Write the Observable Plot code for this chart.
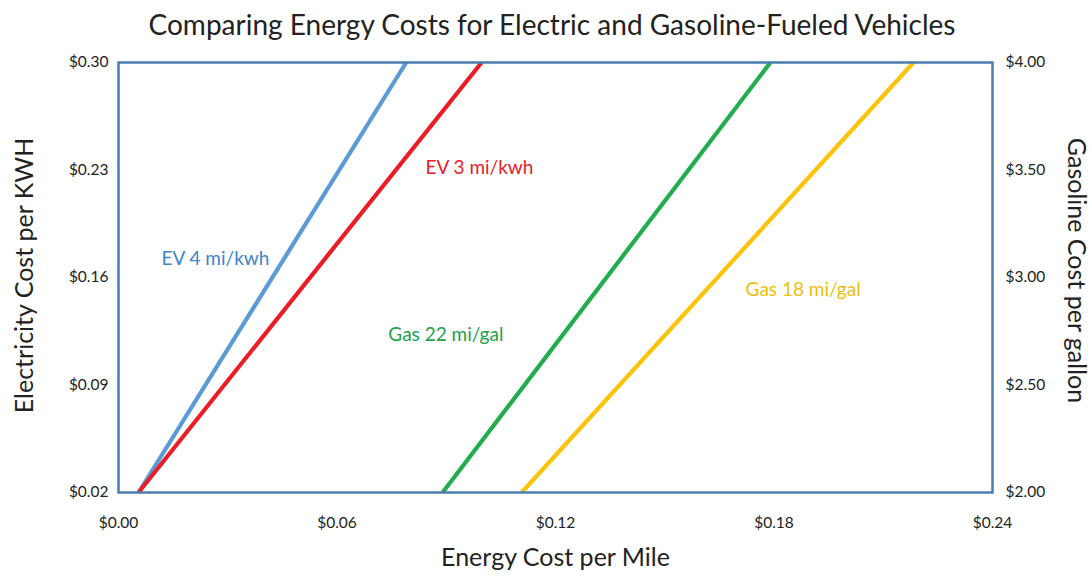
<!DOCTYPE html>
<html>
<head>
<meta charset="utf-8">
<script src="https://cdn.jsdelivr.net/npm/d3@7"></script>
<script src="https://cdn.jsdelivr.net/npm/@observablehq/plot@0.6"></script>
<style>
  html, body { margin: 0; padding: 0; background: #fff; }
  body { width: 1092px; height: 578px; overflow: hidden; font-family: Lato, "Open Sans", sans-serif; }
  #title { height: 44px; line-height: 48px; text-align: center; font-size: 28px; color: #222; padding-left: 12px; }
</style>
</head>
<body>
<div id="title">Comparing Energy Costs for Electric and Gasoline-Fueled Vehicles</div>
<div id="chart"></div>
<script>
// Axis ticks
const xTicks = [0.00, 0.06, 0.12, 0.18, 0.24];
const elecTicks = [0.02, 0.09, 0.16, 0.23, 0.30];
const gasTicks = [2.00, 2.50, 3.00, 3.50, 4.00];

// Series: [energy cost per mile, fuel price] at both ends
const seriesNames = ["EV 4 mi/kwh", "EV 3 mi/kwh", "Gas 22 mi/gal", "Gas 18 mi/gal"];
const seriesAxis = ["elec", "elec", "gas", "gas"];
const seriesCostPerMile = [[0.0055, 0.079], [0.0055, 0.0997], [0.089, 0.179], [0.1107, 0.2183]];
const seriesPrice = [[0.02, 0.30], [0.02, 0.30], [2.00, 4.00], [2.00, 4.00]];
const seriesColors = ["#5b9bd5", "#ec1c24", "#22ad4c", "#fcc30b"];
const labelColors = ["#3d85c6", "#e8202a", "#22a14a", "#f2bd0c"];

// Label anchor points (data space, on the electricity scale)
const labelX = [0.0118, 0.0843, 0.0741, 0.1722];
const labelY = [0.1724, 0.2316, 0.1229, 0.1516];

// map gasoline price to the electricity scale (both axes share the frame)
const gasToElec = d3.scaleLinear().domain([gasTicks[0], gasTicks[gasTicks.length - 1]])
  .range([elecTicks[0], elecTicks[elecTicks.length - 1]]);

const lines = [];
seriesNames.forEach((name, i) => {
  for (let k = 0; k < 2; k++) {
    const p = seriesPrice[i][k];
    lines.push({name, x: seriesCostPerMile[i][k], y: seriesAxis[i] === "gas" ? gasToElec(p) : p});
  }
});
const labels = seriesNames.map((name, i) => ({name, x: labelX[i], y: labelY[i], color: labelColors[i]}));

const fmt = d3.format("$.2f");

const plot = Plot.plot({
  width: 1092,
  height: 534,
  marginTop: 18,
  marginBottom: 86,
  marginLeft: 118,
  marginRight: 100,
  style: {fontFamily: "Lato, 'Open Sans', sans-serif", fontSize: "15.5px", color: "#222", background: "#fff"},
  x: {domain: [xTicks[0], xTicks[xTicks.length - 1]]},
  y: {domain: [elecTicks[0], elecTicks[elecTicks.length - 1]]},
  color: {domain: seriesNames, range: seriesColors},
  marks: [
    Plot.axisX({ticks: xTicks, tickFormat: fmt, tickSize: 0, tickPadding: 24, label: null, fontSize: 15.5}),
    Plot.axisY({ticks: elecTicks, tickFormat: fmt, tickSize: 0, tickPadding: 10, label: null, fontSize: 15.5}),
    Plot.axisY({anchor: "right", ticks: elecTicks, tickFormat: (d, i) => fmt(gasTicks[i]), tickSize: 0, tickPadding: 13, label: null, fontSize: 15.5}),
    Plot.line(lines, {x: "x", y: "y", z: "name", stroke: "name", strokeWidth: 4.2, strokeLinecap: "butt"}),
    Plot.frame({stroke: "#4a7eb0", strokeWidth: 2.5}),
    Plot.text(labels, {x: "x", y: "y", text: "name", fill: "color", textAnchor: "start", fontSize: 19}),
    Plot.text(["Energy Cost per Mile"], {frameAnchor: "bottom", textAnchor: "middle", dy: 73, fontSize: 25, fill: "#222"}),
    Plot.text(["Electricity Cost per KWH"], {frameAnchor: "left", textAnchor: "middle", dx: -94, dy: -2, rotate: -90, fontSize: 25, fill: "#222"}),
    Plot.text(["Gasoline Cost per gallon"], {frameAnchor: "right", textAnchor: "middle", dx: 83, dy: -7, rotate: 90, fontSize: 25, fill: "#222"})
  ]
});
document.getElementById("chart").appendChild(plot);
</script>
</body>
</html>
